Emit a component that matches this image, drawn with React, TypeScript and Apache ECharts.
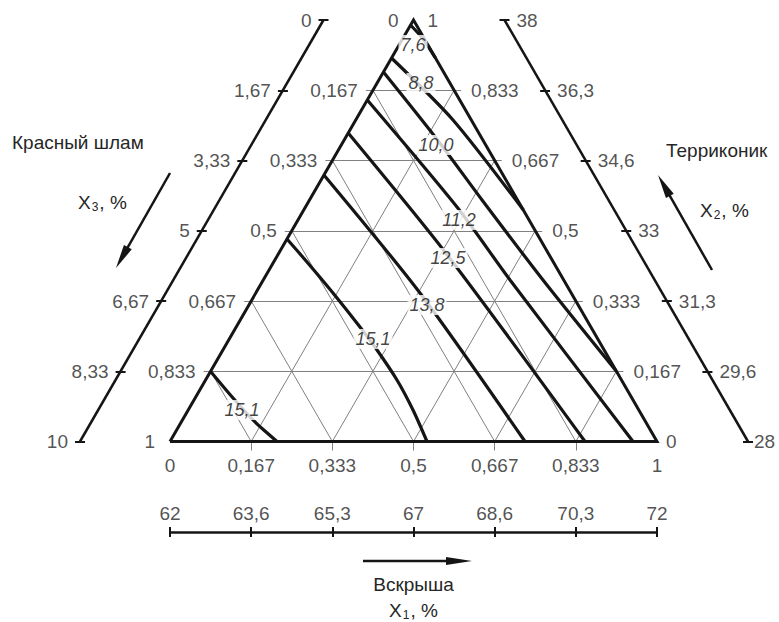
import React, { useEffect, useRef } from 'react';
import * as echarts from 'echarts';

// ---------- data ----------
// ternary plane coordinates: [fraction along base, fraction of height]
const levels = [0, 1 / 6, 2 / 6, 3 / 6, 4 / 6, 5 / 6, 1];
const baseLabels = ['0', '0,167', '0,333', '0,5', '0,667', '0,833', '1'];
const leftInnerLabels = ['1', '0,833', '0,667', '0,5', '0,333', '0,167', '0'];
const rightInnerLabels = ['0', '0,167', '0,333', '0,5', '0,667', '0,833', '1'];
const x3Labels = ['10', '8,33', '6,67', '5', '3,33', '1,67', '0'];
const x2Labels = ['28', '29,6', '31,3', '33', '34,6', '36,3', '38'];
const x1Labels = ['62', '63,6', '65,3', '67', '68,6', '70,3', '72'];

const c76 = [[0.4938, 0.9881], [0.5216, 0.9526], [0.5451, 0.9098]];
const c88 = [[0.4548, 0.9098], [0.5811, 0.7628], [0.7257, 0.5492]];
const c100 = [[0.4382, 0.8766], [0.5462, 0.72], [0.6407, 0.573], [0.7659, 0.3832], [0.9166, 0.1667]];
const c112 = [[0.4051, 0.8102], [0.5893, 0.5563], [0.6982, 0.3832], [0.9507, 0]];
const c125 = [[0.3659, 0.7319], [0.5647, 0.4496], [0.8522, 0]];
const c138 = [[0.316, 0.6323], [0.5133, 0.3523], [0.729, 0]];
const c151a = [[0.2402, 0.4804], [0.2813, 0.4259], [0.3347, 0.3523], [0.3901, 0.2716], [0.4251, 0.2171], [0.4661, 0.1459], [0.499, 0.0747], [0.5277, 0]];
const c151b = [[0.083, 0.1667], [0.1294, 0.1032], [0.1745, 0.0463], [0.2197, 0]];
const contours = [c76, c88, c100, c112, c125, c138, c151a, c151b];

const contourLabels = [
  { name: '7,6', value: [0.499, 0.9407] },
  { name: '8,8', value: [0.5154, 0.8505] },
  { name: '10,0', value: [0.5462, 0.7034] },
  { name: '11,2', value: [0.5934, 0.5255] },
  { name: '12,5', value: [0.5708, 0.4353] },
  { name: '13,8', value: [0.5277, 0.3238] },
  { name: '15,1', value: [0.4168, 0.2432] },
  { name: '15,1', value: [0.1478, 0.0747] },
];

// ---------- layout ----------
const GL = 170, GT = 20, GW = 487, GH = 421.5;
const px = (n: number) => n / GW;
const py = (n: number) => n / GH;
const FONT = '"Liberation Sans", Arial, sans-serif';
const INK = '#151515';
const TXT = '#262626';
const THIN = '#808080';
const FS = 19;

export default function App() {
  const ref = useRef<HTMLDivElement>(null);
  useEffect(() => {
    if (!ref.current) return;
    const chart = echarts.init(ref.current, undefined, { renderer: 'svg' });

    const ext = px(7);
    const offL = px(90);
    const offR = px(91);
    const yB = -py(90.5);

    const thinSegs: number[][][] = [];
    for (let k = 1; k < 6; k++) {
      const a = levels[k];
      thinSegs.push([[a / 2 - ext, a], [1 - a / 2 + ext, a]]);
      thinSegs.push([[a, 0], [(1 + a) / 2, 1 - a]]);
      thinSegs.push([[a, 0], [a / 2, a]]);
      thinSegs.push([[a, 0], [a, -py(9)]]);
    }

    const axisSegs: number[][][] = [];
    axisSegs.push([[-offL, 0], [0.5 - offL, 1]]);
    axisSegs.push([[1 + offR, 0], [0.5 + offR, 1]]);
    axisSegs.push([[0, yB], [1, yB]]);
    const tickSegs: number[][][] = [];
    levels.forEach((Y) => {
      const xl = Y / 2 - offL;
      tickSegs.push([[xl - px(5), Y], [xl + px(5), Y]]);
      const xr = 1 - Y / 2 + offR;
      tickSegs.push([[xr - px(5), Y], [xr + px(5), Y]]);
      tickSegs.push([[Y, yB - py(5)], [Y, yB + py(5)]]);
    });

    const labelSeries = (data: any[], position: string, distance: number, extra: any = {}) => ({
      type: 'scatter',
      silent: true,
      clip: false,
      symbolSize: 0,
      z: 6,
      data,
      labelLayout: { hideOverlap: false },
      label: {
        show: true,
        position,
        distance,
        formatter: '{b}',
        fontFamily: FONT,
        fontSize: FS,
        color: TXT,
        ...extra,
      },
    });

    const series: any[] = [
      {
        type: 'lines',
        coordinateSystem: 'cartesian2d',
        silent: true,
        clip: false,
        z: 1,
        lineStyle: { color: THIN, width: 1, opacity: 1 },
        data: thinSegs.map((c) => ({ coords: c })),
      },
      {
        type: 'lines',
        coordinateSystem: 'cartesian2d',
        polyline: true,
        silent: true,
        clip: false,
        z: 3,
        lineStyle: { color: INK, width: 3, opacity: 1, join: 'miter' },
        data: [{ coords: [[0, 0], [1, 0], [0.5, 1], [0, 0]] }],
      },
      {
        type: 'lines',
        coordinateSystem: 'cartesian2d',
        silent: true,
        clip: false,
        z: 3,
        lineStyle: { color: INK, width: 2.5, opacity: 1 },
        data: axisSegs.map((c) => ({ coords: c })),
      },
      {
        type: 'lines',
        coordinateSystem: 'cartesian2d',
        silent: true,
        clip: false,
        z: 3,
        lineStyle: { color: INK, width: 2, opacity: 1 },
        data: tickSegs.map((c) => ({ coords: c })),
      },
      ...contours.map((c) => ({
        type: 'line',
        data: c,
        smooth: 0.25,
        showSymbol: false,
        silent: true,
        clip: false,
        z: 4,
        lineStyle: { color: INK, width: 3.2 },
      })),
      labelSeries(levels.map((Y, i) => ({ name: leftInnerLabels[i], value: [Y / 2, Y] })), 'left', 15),
      labelSeries(
        levels.map((Y, i) => ({
          name: rightInnerLabels[i],
          value: [1 - Y / 2, Y],
          label: { distance: i === 0 ? 9 : i === 6 ? 14 : 17 },
        })),
        'right',
        17,
      ),
      labelSeries(levels.map((a, i) => ({ name: baseLabels[i], value: [a, 0] })), 'bottom', 14),
      labelSeries(levels.map((Y, i) => ({ name: x3Labels[i], value: [Y / 2 - offL, Y] })), 'left', 12),
      labelSeries(
        levels.map((Y, i) => ({
          name: x2Labels[i],
          value: [1 - Y / 2 + offR, Y],
          label: { distance: i === 0 ? 6 : 12 },
        })),
        'right',
        12,
      ),
      labelSeries(levels.map((a, i) => ({ name: x1Labels[i], value: [a, yB] })), 'top', 9),
      {
        ...labelSeries(contourLabels, 'inside', 0, {
          fontSize: 18,
          fontStyle: 'italic',
          color: '#111111',
          backgroundColor: '#fff',
          padding: [1, 2],
        }),
        z: 8,
      },
    ];

    const arrowHead = (tx: number, ty: number, dx: number, dy: number, len: number, hw: number) => {
      const bx = tx - dx * len, by = ty - dy * len;
      return {
        type: 'polygon',
        silent: true,
        shape: { points: [[tx, ty], [bx + dy * hw, by - dx * hw], [bx - dy * hw, by + dx * hw]] },
        style: { fill: INK },
      };
    };
    const unit = (x1: number, y1: number, x2: number, y2: number) => {
      const L = Math.hypot(x2 - x1, y2 - y1);
      return [(x2 - x1) / L, (y2 - y1) / L];
    };
    const [ldx, ldy] = unit(170, 173, 116, 268);
    const [rdx, rdy] = unit(712, 270, 658, 175);

    const sub = { fontSize: 12, fontFamily: FONT, color: TXT, padding: [9, 1, 0, 1] };
    const textStyle = (extra: any) => ({ fontFamily: FONT, fontSize: FS, fill: TXT, ...extra });

    chart.setOption({
      animation: false,
      backgroundColor: '#ffffff',
      grid: { left: GL, top: GT, width: GW, height: GH },
      xAxis: { type: 'value', min: 0, max: 1, show: false },
      yAxis: { type: 'value', min: 0, max: 1, show: false },
      series,
      graphic: [
        { type: 'line', silent: true, shape: { x1: 170, y1: 173, x2: 116 + ldx * -18, y2: 268 + ldy * -18 }, style: { stroke: INK, lineWidth: 2.5 } },
        arrowHead(116, 268, ldx, ldy, 24, 4.5),
        { type: 'line', silent: true, shape: { x1: 712, y1: 270, x2: 658 + rdx * -18, y2: 175 + rdy * -18 }, style: { stroke: INK, lineWidth: 2.5 } },
        arrowHead(658, 175, rdx, rdy, 24, 4.5),
        { type: 'line', silent: true, shape: { x1: 363, y1: 561, x2: 452, y2: 561 }, style: { stroke: INK, lineWidth: 2.5 } },
        arrowHead(472, 561, 1, 0, 26, 4),
        { type: 'text', silent: true, x: 12, y: 142, style: textStyle({ text: 'Красный шлам', verticalAlign: 'middle' }) },
        { type: 'text', silent: true, x: 78, y: 202, style: textStyle({ text: 'X{s|3}, %', verticalAlign: 'middle', rich: { s: sub } }) },
        { type: 'text', silent: true, x: 666, y: 150, style: textStyle({ text: 'Терриконик', verticalAlign: 'middle' }) },
        { type: 'text', silent: true, x: 700, y: 210, style: textStyle({ text: 'X{s|2}, %', verticalAlign: 'middle', rich: { s: sub } }) },
        { type: 'text', silent: true, x: 413.5, y: 584, style: textStyle({ text: 'Вскрыша', align: 'center', verticalAlign: 'middle' }) },
        { type: 'text', silent: true, x: 413.5, y: 610, style: textStyle({ text: 'X{s|1}, %', align: 'center', verticalAlign: 'middle', rich: { s: sub } }) },
      ],
    });
    return () => chart.dispose();
  }, []);
  return <div ref={ref} style={{ position: 'fixed', left: 0, top: 0, width: 779, height: 622 }} />;
}
